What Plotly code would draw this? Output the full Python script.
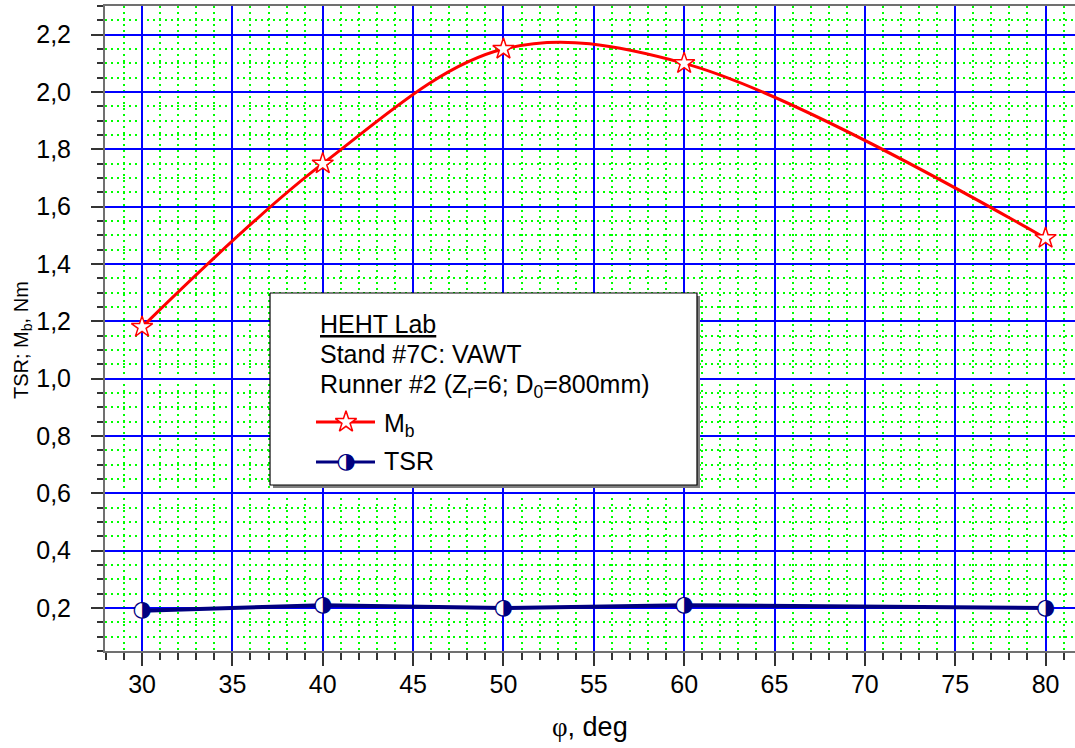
import plotly.graph_objects as go

# ---- data ----
phi = [30, 40, 50, 60, 80]
mb = [1.18, 1.75, 2.15, 2.10, 1.49]
tsr = [0.19, 0.21, 0.20, 0.21, 0.20]

x_ticks = [30, 35, 40, 45, 50, 55, 60, 65, 70, 75, 80]

W, H = 1075, 748
L, R, T, B = 105, 1075, 6, 651

def px(x):
    return (x - L) / (R - L)

def py(y):
    return (B - y) / (B - T)

RED = "#ff0000"
NAVY = "#000080"
FONT = "Liberation Sans, Arial, sans-serif"
STAR = dict(symbol="star", size=16, color="white", line=dict(color=RED, width=1.5))
HALF = dict(family="DejaVu Sans", size=22, color=NAVY)

fig = go.Figure()

# M_b spline
fig.add_trace(go.Scatter(
    x=phi, y=mb, mode="lines+markers",
    line=dict(color=RED, width=3, shape="spline", smoothing=1.0),
    marker=STAR, showlegend=False, hoverinfo="skip"))

# TSR line
fig.add_trace(go.Scatter(
    x=phi, y=tsr, mode="lines",
    line=dict(color=NAVY, width=4),
    showlegend=False, hoverinfo="skip"))
fig.add_trace(go.Scatter(
    x=phi, y=tsr, mode="markers",
    marker=dict(symbol="circle", size=15, color="white", line=dict(width=0)),
    showlegend=False, hoverinfo="skip"))
fig.add_trace(go.Scatter(
    x=phi, y=tsr, mode="text", text=["◑"] * len(phi),
    textposition="middle center", textfont=HALF,
    showlegend=False, hoverinfo="skip"))

# ---- legend box on overlay axes (paper-like coords) ----
bx0, bx1, by0, by1 = 270, 697, 293, 485
sh = 3
fig.add_trace(go.Scatter(
    x=[px(bx0 + sh), px(bx1 + sh), px(bx1 + sh), px(bx0 + sh), px(bx0 + sh)],
    y=[py(by0 + sh), py(by0 + sh), py(by1 + sh), py(by1 + sh), py(by0 + sh)],
    fill="toself", fillcolor="#808080", mode="lines", line=dict(width=0),
    xaxis="x2", yaxis="y2", showlegend=False, hoverinfo="skip"))
fig.add_trace(go.Scatter(
    x=[px(bx0), px(bx1), px(bx1), px(bx0), px(bx0)],
    y=[py(by0), py(by0), py(by1), py(by1), py(by0)],
    fill="toself", fillcolor="white", mode="lines", line=dict(width=1.2, color="black"),
    xaxis="x2", yaxis="y2", showlegend=False, hoverinfo="skip"))

ly1, ly2 = 422, 462
fig.add_trace(go.Scatter(
    x=[px(316), px(346), px(375)], y=[py(ly1)] * 3, mode="lines",
    line=dict(color=RED, width=3), xaxis="x2", yaxis="y2", showlegend=False, hoverinfo="skip"))
fig.add_trace(go.Scatter(
    x=[px(346)], y=[py(ly1)], mode="markers", marker=STAR,
    xaxis="x2", yaxis="y2", showlegend=False, hoverinfo="skip"))
fig.add_trace(go.Scatter(
    x=[px(316), px(346), px(375)], y=[py(ly2)] * 3, mode="lines",
    line=dict(color=NAVY, width=3), xaxis="x2", yaxis="y2", showlegend=False, hoverinfo="skip"))
fig.add_trace(go.Scatter(
    x=[px(346)], y=[py(ly2)], mode="markers",
    marker=dict(symbol="circle", size=15, color="white", line=dict(width=0)),
    xaxis="x2", yaxis="y2", showlegend=False, hoverinfo="skip"))
fig.add_trace(go.Scatter(
    x=[px(346)], y=[py(ly2)], mode="text", text=["◑"], textposition="middle center",
    textfont=HALF, xaxis="x2", yaxis="y2", showlegend=False, hoverinfo="skip"))

annotations = []
def ann(text, x, y, size=25, **kw):
    d = dict(text=text, x=px(x), y=py(y), xref="paper", yref="paper",
             xanchor="left", yanchor="middle", showarrow=False,
             font=dict(family=FONT, size=size, color="black"))
    d.update(kw)
    annotations.append(d)

ann("<u>HEHT Lab</u>", 318, 324)
ann("Stand #7C: VAWT", 318, 354)
ann("Runner #2 (Z<sub>r</sub>=6; D<sub>0</sub>=800mm)", 318, 386)
ann("M<sub>b</sub>", 382, 425)
ann("TSR", 382, 461)

# axis titles
annotations.append(dict(
    text="<span style=\"font-family:'Liberation Serif'\">φ</span>, deg",
    x=0.5, y=py(727), xref="paper", yref="paper", xanchor="center", yanchor="middle",
    showarrow=False, font=dict(family=FONT, size=27, color="black")))
annotations.append(dict(
    text="TSR; M<sub>b</sub>, Nm", x=px(22), y=py(340), xref="paper", yref="paper",
    xanchor="center", yanchor="middle", textangle=-90, showarrow=False,
    font=dict(family=FONT, size=20, color="black")))

MINOR_GRID = dict(showgrid=True, gridcolor="#00ff00", griddash="2px,4px", gridwidth=2,
                  ticks="outside", tickcolor="#333333", tickwidth=1.5)

fig.update_layout(
    width=W, height=H,
    margin=dict(l=L, r=W - R, t=T, b=H - B, pad=0),
    paper_bgcolor="white", plot_bgcolor="white",
    separators=", ",
    annotations=annotations,
    xaxis=dict(
        range=[27.95, 81.63], tickvals=x_ticks, ticktext=[str(v) for v in x_ticks],
        showgrid=True, gridcolor="#0000ff", gridwidth=1.5,
        showline=True, linecolor="#707070", linewidth=2, mirror=True,
        ticks="outside", ticklen=13, tickwidth=1.5, tickcolor="#333333",
        tickfont=dict(family=FONT, size=25, color="black"),
        ticklabelstandoff=-3, automargin=False,
        minor=dict(dtick=1, tick0=0, ticklen=7, **MINOR_GRID),
        zeroline=False),
    yaxis=dict(
        range=[0.05, 2.3], dtick=0.2, tick0=0, tickformat=".1f",
        showgrid=True, gridcolor="#0000ff", gridwidth=1.5,
        showline=True, linecolor="#707070", linewidth=2, mirror=False,
        ticks="outside", ticklen=12, tickwidth=1.5, tickcolor="#333333",
        tickfont=dict(family=FONT, size=25, color="black"),
        ticklabelstandoff=15, automargin=False,
        minor=dict(dtick=0.05, tick0=0, ticklen=6, **MINOR_GRID),
        zeroline=False),
    xaxis2=dict(overlaying="x", range=[0, 1], visible=False),
    yaxis2=dict(overlaying="y", range=[0, 1], visible=False),
)

fig.write_html("out.html", config={"displayModeBar": False},
               post_script="document.body.style.margin='0';")
